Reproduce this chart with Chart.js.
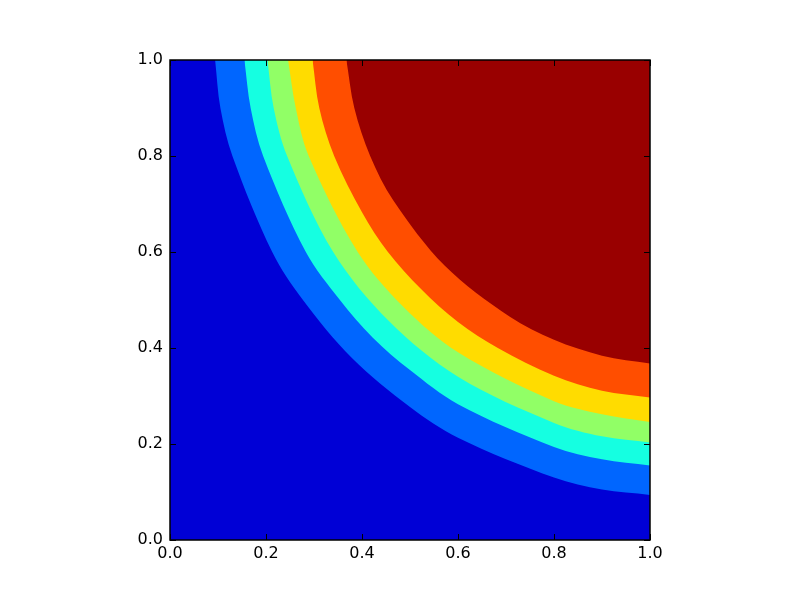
<!DOCTYPE html>
<html>
<head>
<meta charset="utf-8">
<script src="https://cdn.jsdelivr.net/npm/chart.js@4"></script>
<style>
  html, body { margin: 0; padding: 0; background: #fff; }
  #wrap { width: 800px; height: 600px; }
</style>
</head>
<body>
<div id="wrap"><canvas id="c" width="800" height="600"></canvas></div>
<script>
// Tick positions / labels
const tickValues = [0.0, 0.2, 0.4, 0.6, 0.8, 1.0];
const tickLabels = ['0.0', '0.2', '0.4', '0.6', '0.8', '1.0'];

// Filled band colours, from lowest (background) to highest
const bandColors = ['#0000D6', '#0066FF', '#15FFE1', '#91FF66', '#FFDC00', '#FF4E00', '#990000'];

// Contour boundaries (x, y pairs along each level line)
const level1X = [0.094, 0.105, 0.130, 0.213, 0.277, 0.379, 0.500, 0.600, 0.800, 0.900, 1.000];
const level1Y = [1.000, 0.900, 0.800, 0.600, 0.500, 0.379, 0.277, 0.213, 0.130, 0.105, 0.094];

const level2X = [0.155, 0.168, 0.194, 0.283, 0.354, 0.422, 0.500, 0.600, 0.800, 0.900, 1.000];
const level2Y = [1.000, 0.900, 0.800, 0.600, 0.500, 0.422, 0.354, 0.283, 0.194, 0.168, 0.155];

const level3X = [0.203, 0.216, 0.244, 0.340, 0.456, 0.600, 0.800, 0.900, 1.000];
const level3Y = [1.000, 0.900, 0.800, 0.600, 0.456, 0.340, 0.244, 0.216, 0.203];

const level4X = [0.246, 0.262, 0.289, 0.391, 0.486, 0.600, 0.800, 0.900, 1.000];
const level4Y = [1.000, 0.900, 0.800, 0.600, 0.486, 0.391, 0.289, 0.262, 0.246];

const level5X = [0.297, 0.311, 0.342, 0.400, 0.454, 0.523, 0.600, 0.683, 0.800, 0.900, 1.000];
const level5Y = [1.000, 0.900, 0.800, 0.683, 0.600, 0.523, 0.454, 0.400, 0.342, 0.311, 0.297];

const level6X = [0.3675, 0.384, 0.417, 0.465, 0.572, 0.708, 0.800, 0.900, 1.000];
const level6Y = [1.000, 0.900, 0.800, 0.708, 0.572, 0.465, 0.417, 0.384, 0.3675];

// Base of the plot (lowest band covers everything)
const baseX = [0.0, 1.0];
const baseY = [0.0, 0.0];

const levelsX = [level1X, level2X, level3X, level4X, level5X, level6X];
const levelsY = [level1Y, level2Y, level3Y, level4Y, level5Y, level6Y];

function pts(xs, ys) { return xs.map((x, i) => ({ x: x, y: ys[i] })); }

// Highest band first so it is drawn on top
const datasets = [];
for (let k = levelsX.length - 1; k >= 0; k--) {
  datasets.push({
    data: pts(levelsX[k], levelsY[k]),
    backgroundColor: bandColors[k + 1],
    borderWidth: 0,
    pointRadius: 0,
    fill: 'end',
    tension: 0.33
  });
}
datasets.push({
  data: pts(baseX, baseY),
  backgroundColor: bandColors[0],
  borderWidth: 0,
  pointRadius: 0,
  fill: 'end',
  tension: 0
});

const frameTicks = {
  id: 'frameTicks',
  afterDatasetsDraw(chart) {
    const ctx = chart.ctx;
    const { left, right, top, bottom } = chart.chartArea;
    const xs = chart.scales.x, ys = chart.scales.y;
    const L = 6;
    ctx.save();
    ctx.strokeStyle = '#000';
    ctx.lineWidth = 1;
    ctx.beginPath();
    tickValues.forEach(v => {
      const px = Math.round(xs.getPixelForValue(v)) + 0.5;
      ctx.moveTo(px, bottom); ctx.lineTo(px, bottom - L);
      ctx.moveTo(px, top); ctx.lineTo(px, top + L);
      const py = Math.round(ys.getPixelForValue(v)) + 0.5;
      ctx.moveTo(left, py); ctx.lineTo(left + L, py);
      ctx.moveTo(right, py); ctx.lineTo(right - L, py);
    });
    ctx.stroke();
    ctx.lineWidth = 1.5;
    ctx.strokeRect(left, top, right - left, bottom - top);
    ctx.restore();
  }
};

const font = { family: 'DejaVu Sans', size: 16 };

new Chart(document.getElementById('c'), {
  type: 'line',
  data: { datasets: datasets },
  options: {
    responsive: false,
    animation: false,
    events: [],
    layout: { padding: { left: 0, right: 150, top: 60, bottom: 0 } },
    plugins: {
      legend: { display: false },
      tooltip: { enabled: false },
      filler: { propagate: false }
    },
    scales: {
      x: {
        type: 'linear',
        min: 0, max: 1,
        grid: { display: false, drawTicks: false },
        border: { display: false },
        afterFit: (s) => { s.height = 60; },
        afterBuildTicks: (s) => { s.ticks = tickValues.map(v => ({ value: v })); },
        ticks: {
          color: '#000', font: font, padding: 4, maxRotation: 0, autoSkip: false,
          callback: (v) => tickLabels[tickValues.indexOf(Math.round(v * 10) / 10)]
        }
      },
      y: {
        type: 'linear',
        min: 0, max: 1,
        grid: { display: false, drawTicks: false },
        border: { display: false },
        afterFit: (s) => { s.width = 170; },
        afterBuildTicks: (s) => { s.ticks = tickValues.map(v => ({ value: v })); },
        ticks: {
          color: '#000', font: font, padding: 7, autoSkip: false,
          callback: (v) => tickLabels[tickValues.indexOf(Math.round(v * 10) / 10)]
        }
      }
    }
  },
  plugins: [frameTicks]
});
</script>
</body>
</html>
